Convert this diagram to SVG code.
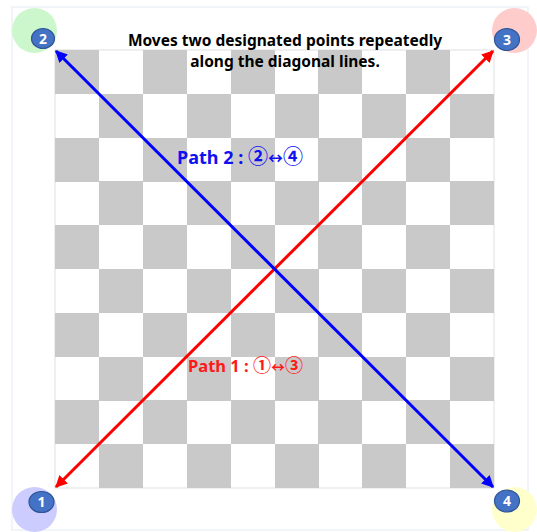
<svg xmlns="http://www.w3.org/2000/svg" width="537" height="532" viewBox="0 0 537 532">
<defs>
<style>
.cell{fill:#c9c9c9}
.title{font-family:"Noto Sans","Liberation Sans",sans-serif;font-weight:bold;font-size:15.5px;fill:#000;text-anchor:middle}
.lbl{font-family:"Noto Sans","Noto Sans CJK KR",sans-serif;font-weight:bold}
.cj{font-family:"Noto Sans CJK KR",sans-serif;font-weight:bold}
.badge{fill:#4472c4;stroke:#2f5597;stroke-width:1.2}
.bnum{font-family:"Noto Sans","Liberation Sans",sans-serif;font-weight:bold;font-size:14px;fill:#fff;text-anchor:middle}
</style>
<marker id="ab" viewBox="0 0 10 10" refX="9" refY="5" markerWidth="4" markerHeight="4" orient="auto-start-reverse" markerUnits="strokeWidth">
<path d="M0,0 L10,5 L0,10 Z" fill="#0000ff"/>
</marker>
<marker id="arr" viewBox="0 0 10 10" refX="9" refY="5" markerWidth="4" markerHeight="4" orient="auto-start-reverse" markerUnits="strokeWidth">
<path d="M0,0 L10,5 L0,10 Z" fill="#ff0000"/>
</marker>
</defs>
<rect x="12" y="7" width="516" height="523" fill="#fff" stroke="#e3e9f3" stroke-width="1"/>
<g id="board">
<rect x="55" y="50" width="439" height="438" fill="#fff" stroke="#e0e0e0" stroke-width="1"/>
</g>
<g id="checker">
<rect class="cell" x="55" y="50" width="44" height="44"/><rect class="cell" x="143" y="50" width="44" height="44"/><rect class="cell" x="231" y="50" width="44" height="44"/><rect class="cell" x="318" y="50" width="44" height="44"/><rect class="cell" x="406" y="50" width="44" height="44"/>
<rect class="cell" x="99" y="94" width="44" height="44"/><rect class="cell" x="187" y="94" width="44" height="44"/><rect class="cell" x="275" y="94" width="44" height="44"/><rect class="cell" x="362" y="94" width="44" height="44"/><rect class="cell" x="450" y="94" width="44" height="44"/>
<rect class="cell" x="55" y="138" width="44" height="44"/><rect class="cell" x="143" y="138" width="44" height="44"/><rect class="cell" x="231" y="138" width="44" height="44"/><rect class="cell" x="318" y="138" width="44" height="44"/><rect class="cell" x="406" y="138" width="44" height="44"/>
<rect class="cell" x="99" y="181" width="44" height="44"/><rect class="cell" x="187" y="181" width="44" height="44"/><rect class="cell" x="275" y="181" width="44" height="44"/><rect class="cell" x="362" y="181" width="44" height="44"/><rect class="cell" x="450" y="181" width="44" height="44"/>
<rect class="cell" x="55" y="225" width="44" height="44"/><rect class="cell" x="143" y="225" width="44" height="44"/><rect class="cell" x="231" y="225" width="44" height="44"/><rect class="cell" x="318" y="225" width="44" height="44"/><rect class="cell" x="406" y="225" width="44" height="44"/>
<rect class="cell" x="99" y="269" width="44" height="44"/><rect class="cell" x="187" y="269" width="44" height="44"/><rect class="cell" x="275" y="269" width="44" height="44"/><rect class="cell" x="362" y="269" width="44" height="44"/><rect class="cell" x="450" y="269" width="44" height="44"/>
<rect class="cell" x="55" y="313" width="44" height="44"/><rect class="cell" x="143" y="313" width="44" height="44"/><rect class="cell" x="231" y="313" width="44" height="44"/><rect class="cell" x="318" y="313" width="44" height="44"/><rect class="cell" x="406" y="313" width="44" height="44"/>
<rect class="cell" x="99" y="357" width="44" height="44"/><rect class="cell" x="187" y="357" width="44" height="44"/><rect class="cell" x="275" y="357" width="44" height="44"/><rect class="cell" x="362" y="357" width="44" height="44"/><rect class="cell" x="450" y="357" width="44" height="44"/>
<rect class="cell" x="55" y="400" width="44" height="44"/><rect class="cell" x="143" y="400" width="44" height="44"/><rect class="cell" x="231" y="400" width="44" height="44"/><rect class="cell" x="318" y="400" width="44" height="44"/><rect class="cell" x="406" y="400" width="44" height="44"/>
<rect class="cell" x="99" y="444" width="44" height="44"/><rect class="cell" x="187" y="444" width="44" height="44"/><rect class="cell" x="275" y="444" width="44" height="44"/><rect class="cell" x="362" y="444" width="44" height="44"/><rect class="cell" x="450" y="444" width="44" height="44"/>
</g>
<g id="title">
<text class="title" x="285" y="46">Moves two designated points repeatedly</text>
<text class="title" x="285" y="67">along the diagonal lines.</text>
</g>
<g id="connectors">
<line x1="56" y1="487" x2="493" y2="51" stroke="#ff0000" stroke-width="3" marker-start="url(#arr)" marker-end="url(#arr)"/>
<line x1="56" y1="51" x2="493" y2="487" stroke="#0000ff" stroke-width="3" marker-start="url(#ab)" marker-end="url(#ab)"/>
</g>
<g id="label-path2">
<text class="lbl" x="177" y="164" font-size="18" fill="#1010f0">Path 2 : <tspan class="cj" font-size="20">②</tspan><tspan class="cj" font-size="15">↔</tspan><tspan class="cj" font-size="20">④</tspan></text>
</g>
<g id="label-path1">
<text class="lbl" x="188" y="372" font-size="16.5" fill="#ff1a1a">Path 1 : <tspan class="cj" font-size="18">①</tspan><tspan class="cj" font-size="14">↔</tspan><tspan class="cj" font-size="18">③</tspan></text>
</g>
<g id="node2">
<circle cx="34.5" cy="30.5" r="22.5" fill="#ccf7cc"/>
<ellipse class="badge" cx="43" cy="38.5" rx="11.5" ry="10"/>
<text class="bnum" x="43" y="43.5">2</text>
</g>
<g id="node3">
<circle cx="514.5" cy="30.5" r="22.5" fill="#ffcccc"/>
<ellipse class="badge" cx="507" cy="39.5" rx="12.5" ry="11"/>
<text class="bnum" x="507" y="44.5">3</text>
</g>
<g id="node1">
<circle cx="34.5" cy="509.5" r="22.5" fill="#ccccff"/>
<ellipse class="badge" cx="41.5" cy="502" rx="12.5" ry="10.5"/>
<text class="bnum" x="41.5" y="507">1</text>
</g>
<g id="node4">
<circle cx="514.5" cy="509.5" r="22.5" fill="#ffffcc"/>
<ellipse class="badge" cx="507" cy="501" rx="12.5" ry="11"/>
<text class="bnum" x="507" y="506">4</text>
</g>
</svg>
